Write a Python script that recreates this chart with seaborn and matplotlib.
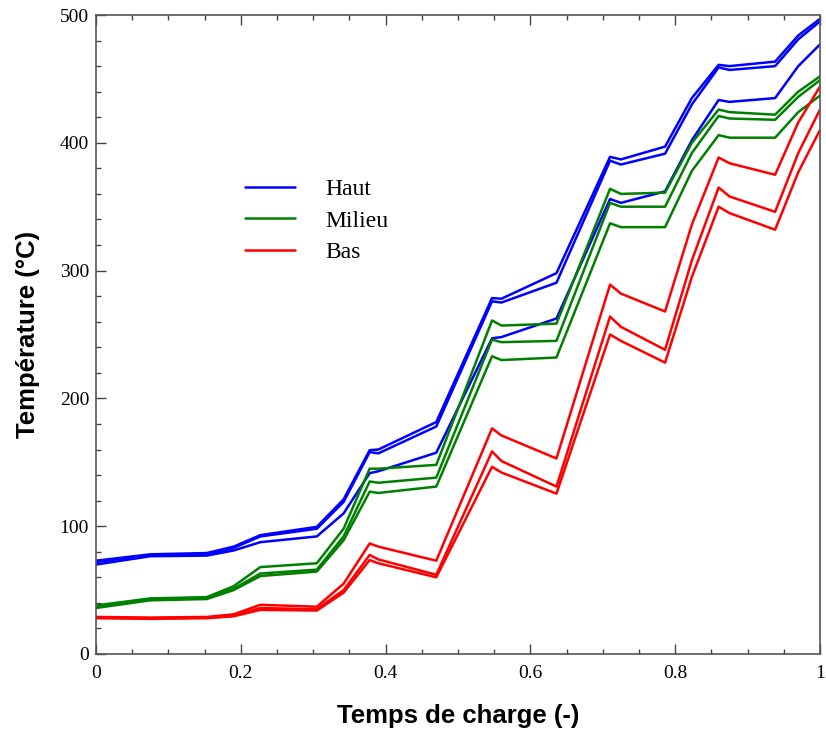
import numpy as np
import pandas as pd
import matplotlib
matplotlib.use("Agg")
import matplotlib.pyplot as plt
import seaborn as sns
from matplotlib.lines import Line2D
from matplotlib.ticker import MultipleLocator

# charge time (-) at the kinks of the curves
temps = [0, 0.075, 0.153, 0.19, 0.227, 0.305, 0.342, 0.378, 0.39, 0.47, 0.547, 0.56,
         0.636, 0.71, 0.725, 0.786, 0.823, 0.86, 0.875, 0.938, 0.97, 1.0]

# Haut (blue), three curves
haut_1 = [73, 78, 79, 84, 93, 99.5, 121, 159.5, 160, 181.5, 278.5, 278,
          298, 389, 387, 397, 435, 461, 460, 463.5, 484, 497]
haut_2 = [72, 77.5, 78, 83, 92, 98, 119, 158, 157, 178, 276, 275,
          290.5, 386, 383, 391.5, 430, 459, 457, 460, 481, 495]
haut_3 = [70, 76.5, 77, 81, 87.5, 92, 110, 141.5, 143, 157.5, 247, 248,
          262.5, 356, 353, 362, 402, 433.5, 432, 435, 460, 477]

# Milieu (green)
milieu_1 = [38, 43.5, 44.5, 53, 68, 71, 98, 145, 145, 148, 261, 257,
            258.5, 364, 360, 361, 400, 426, 424, 422, 440, 452]
milieu_2 = [37, 43, 44, 51, 63, 66, 92, 135, 134, 138, 246, 244,
            245, 353, 350, 350, 392, 421, 419, 418, 436, 449]
milieu_3 = [36, 42, 43, 50, 61, 64.5, 89, 127, 126, 131, 233, 230,
            232, 337, 334, 334, 378, 406, 404, 404, 424, 437]

# Bas (red)
bas_1 = [29, 28.5, 29, 31, 38.5, 37, 55, 86.5, 84, 73, 176.5, 171,
         153, 289, 282, 268, 336, 388.5, 384, 375, 416, 444]
bas_2 = [28.5, 28, 28.5, 30, 36, 35, 50, 77.5, 74, 62, 158.5, 151,
         131, 264, 256, 238, 308, 365, 358, 346, 392, 426]
bas_3 = [28, 27.5, 28, 29.5, 34.5, 34, 48, 73.5, 71, 60, 146.5, 142,
         125.5, 250, 245, 228, 295, 350, 345, 332, 377, 410]

zones = ["Haut", "Milieu", "Bas"]
couleurs = {"Haut": "#0000ff", "Milieu": "#008000", "Bas": "#ff0000"}

series = {
    ("Haut", 1): haut_1, ("Haut", 2): haut_2, ("Haut", 3): haut_3,
    ("Milieu", 1): milieu_1, ("Milieu", 2): milieu_2, ("Milieu", 3): milieu_3,
    ("Bas", 1): bas_1, ("Bas", 2): bas_2, ("Bas", 3): bas_3,
}

rows = []
for (zone, k), vals in series.items():
    for t, v in zip(temps, vals):
        rows.append({"temps": t, "T": v, "zone": zone, "courbe": f"{zone}{k}"})
data = pd.DataFrame(rows)

sns.set_style("ticks")
plt.rcParams["font.family"] = ["Liberation Serif", "DejaVu Serif"]
plt.rcParams["text.color"] = "black"
plt.rcParams["xtick.labelcolor"] = "black"
plt.rcParams["ytick.labelcolor"] = "black"

fig = plt.figure(figsize=(8.26, 7.29), dpi=100)
ax = fig.add_axes([96 / 826, 1 - 654 / 729, 724 / 826, 639 / 729])

sns.lineplot(data=data, x="temps", y="T", hue="zone", units="courbe",
             estimator=None, palette=couleurs, hue_order=zones,
             linewidth=1.8, legend=False, ax=ax)

ax.set_xlim(0, 1)
ax.set_ylim(0, 500)
ax.xaxis.set_minor_locator(MultipleLocator(0.05))
ax.yaxis.set_major_locator(MultipleLocator(100))
ax.yaxis.set_minor_locator(MultipleLocator(20))
ax.set_xticks([0, 0.2, 0.4, 0.6, 0.8, 1.0])
ax.set_xticklabels(["0", "0.2", "0.4", "0.6", "0.8", "1"])

ax.tick_params(axis="both", which="major", direction="in", length=7, width=1,
               labelsize=14, top=True, right=False, color="#444444", pad=5)
ax.tick_params(axis="x", which="major", pad=8)
ax.tick_params(axis="both", which="minor", direction="in", length=3.5, width=1,
               top=True, right=False, color="#444444")
for s in ax.spines.values():
    s.set_visible(True)
    s.set_color("#555555")
    s.set_linewidth(1.2)

lab_font = {"family": ["Liberation Sans", "DejaVu Sans"], "weight": "bold",
            "size": 18.5, "color": "black"}
ax.set_xlabel("Temps de charge (-)", fontdict=lab_font, labelpad=16)
ax.set_ylabel("Température (°C)", fontdict=lab_font, labelpad=14)

handles = [Line2D([], [], color=couleurs[z], linewidth=1.8) for z in zones]
ax.legend(handles, zones, loc="upper left", bbox_to_anchor=(0.206, 0.744),
          frameon=False, fontsize=17, handlelength=2.1, handletextpad=1.3,
          labelspacing=0.42, borderpad=0, borderaxespad=0)

plt.savefig("out.png", dpi=100)
